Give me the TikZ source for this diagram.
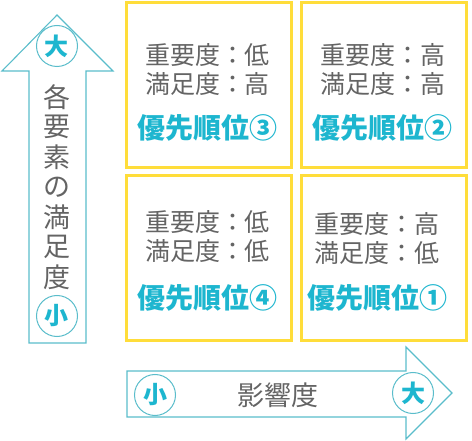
\documentclass[tikz,border=0pt]{standalone}
\usepackage{fontspec}
\newfontfamily\jp{Noto Sans CJK JP}
\definecolor{boxy}{HTML}{FFDD3A}
\definecolor{cyantxt}{HTML}{1DB6CF}
\definecolor{arrowc}{HTML}{5ABDCB}
\definecolor{graytxt}{HTML}{646464}
\tikzset{
  quad/.style={draw=boxy, line width=3pt, fill=white},
  info/.style={text=graytxt, font=\jp\fontsize{25}{29}\selectfont, align=center, inner sep=0pt},
  prio/.style={text=cyantxt, font=\jp\bfseries\fontsize{28}{32}\selectfont, inner sep=0pt},
  bigarrow/.style={draw=arrowc, line width=1.1pt, fill=white, line join=miter},
  circ/.style={circle, draw=arrowc, line width=1pt, minimum size=41pt, inner sep=0pt, text=cyantxt, font=\jp\bfseries\fontsize{24}{26}\selectfont},
  axislbl/.style={text=graytxt, font=\jp\fontsize{27}{30}\selectfont, inner sep=0pt}
}
\begin{document}
\begin{tikzpicture}[x=1pt,y=-1pt]
\useasboundingbox (0,0) rectangle (472,441);
% quadrants
\node[quad, minimum width=165pt, minimum height=165pt, anchor=north west] (q3) at (125,1.5) {};
\node[quad, minimum width=165pt, minimum height=165pt, anchor=north west] (q2) at (300,1.5) {};
\node[quad, minimum width=165pt, minimum height=165pt, anchor=north west] (q4) at (125,174.5) {};
\node[quad, minimum width=165pt, minimum height=165pt, anchor=north west] (q1) at (300,174.5) {};
% texts
\node[info] (t3a) at (207.5,55) {重要度：低};
\node[info] (t3b) at (207.5,84) {満足度：高};
\node[prio] (p3) at (207.5,128) {優先順位③};
\node[info] (t2a) at (382.5,55) {重要度：高};
\node[info] (t2b) at (382.5,84) {満足度：高};
\node[prio] (p2) at (382.5,128) {優先順位②};
\node[info] (t4a) at (207.5,222) {重要度：低};
\node[info] (t4b) at (207.5,251) {満足度：低};
\node[prio] (p4) at (207.5,298) {優先順位④};
\node[info] (t1a) at (377,224) {重要度：高};
\node[info] (t1b) at (377,253) {満足度：低};
\node[prio] (p1) at (377,298) {優先順位①};
% vertical arrow
\draw[bigarrow] (29,343) -- (29,71) -- (2,71) -- (57,15) -- (113,71) -- (86,71) -- (86,343) -- cycle;
\node[circ] (vbig) at (57,46) {大};
\node[circ] (vsmall) at (57,316) {小};
\foreach \ch [count=\i] in {各,要,素,の,満,足,度} {
  \node[axislbl] (v\i) at (57,{67+30*\i}) {\ch};
}
% horizontal arrow
\draw[bigarrow] (127,371) -- (406,371) -- (406,347) -- (452,393) -- (406,439) -- (406,417) -- (127,417) -- cycle;
\node[circ] (hsmall) at (155,395) {小};
\node[circ] (hbig) at (413,393) {大};
\node[axislbl] (hlbl) at (278,395) {影響度};
\end{tikzpicture}
\end{document}
